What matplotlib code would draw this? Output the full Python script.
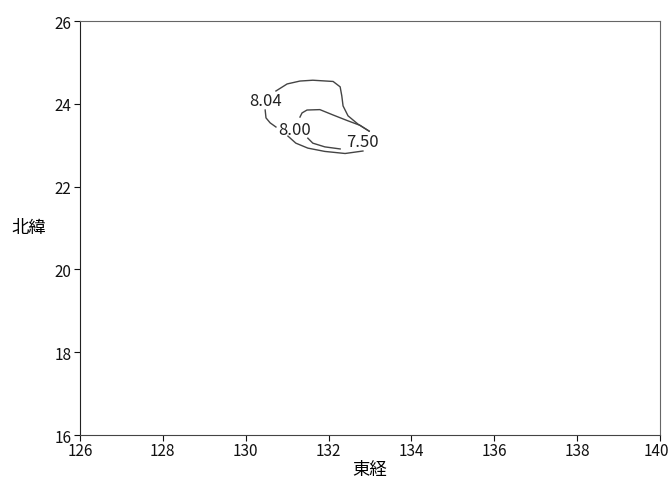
import matplotlib
matplotlib.use("Agg")
import matplotlib.pyplot as plt
import matplotlib.transforms as mtransforms

plt.rcParams['font.family'] = ['Noto Sans CJK JP', 'DejaVu Sans']

# contour lines (lon, lat)
outer_lon = [130.73, 131.00, 131.31, 131.62, 132.11, 132.28, 132.32, 132.35, 132.47, 132.71, 132.98]
outer_lat = [24.31, 24.48, 24.55, 24.57, 24.54, 24.41, 24.19, 23.95, 23.71, 23.51, 23.34]
link_lon = [130.47, 130.49, 130.59, 130.73]
link_lat = [23.85, 23.66, 23.54, 23.44]
inner_lon = [131.31, 131.36, 131.48, 131.79, 132.11, 132.44, 132.76, 132.98]
inner_lat = [23.68, 23.78, 23.85, 23.86, 23.73, 23.60, 23.48, 23.34]
mid_lon = [131.50, 131.62, 131.91, 132.28]
mid_lat = [23.17, 23.05, 22.96, 22.91]
low_lon = [131.02, 131.21, 131.50, 131.91, 132.40, 132.83]
low_lat = [23.22, 23.05, 22.93, 22.85, 22.80, 22.86]

labels = ['8.04', '8.00', '7.50']
label_lon = [130.47, 131.19, 132.81]
label_lat = [24.07, 23.39, 23.08]

fig = plt.figure(figsize=(6.7, 4.85), dpi=100)
ax = fig.add_axes([0.1194, 0.101, 0.8656, 0.8536])

line_kw = dict(color='#444444', lw=1.0)
ax.plot(outer_lon, outer_lat, **line_kw)
ax.plot(link_lon, link_lat, **line_kw)
ax.plot(inner_lon, inner_lat, **line_kw)
ax.plot(mid_lon, mid_lat, **line_kw)
ax.plot(low_lon, low_lat, **line_kw)

for t, x, y in zip(labels, label_lon, label_lat):
    ax.text(x, y, t, ha='center', va='center', fontsize=12, color='#222222')

ax.set_xlim(126, 140)
ax.set_ylim(16, 26)
ax.set_xticks(range(126, 141, 2))
ax.set_yticks(range(16, 27, 2))
ax.tick_params(direction='out', length=4, width=0.8, labelsize=11, colors='#111111')
ax.tick_params(axis='x', pad=1)
ax.tick_params(axis='y', pad=2)

# keep the last x tick label inside the figure
last = ax.get_xticklabels()[-1]
last.set_transform(last.get_transform() + mtransforms.ScaledTranslation(-0.04, 0, fig.dpi_scale_trans))

ax.spines['left'].set_color('#222222')
ax.spines['bottom'].set_color('#444444')
ax.spines['top'].set_color('#666666')
ax.spines['right'].set_color('#666666')

ax.set_xlabel('東経', fontsize=12.5, labelpad=1)
ax.set_ylabel('北緯', fontsize=12.5, rotation=0, va='center', ha='center')
ax.yaxis.set_label_coords(-0.088, 0.502)

fig.savefig('out.png', dpi=100)
